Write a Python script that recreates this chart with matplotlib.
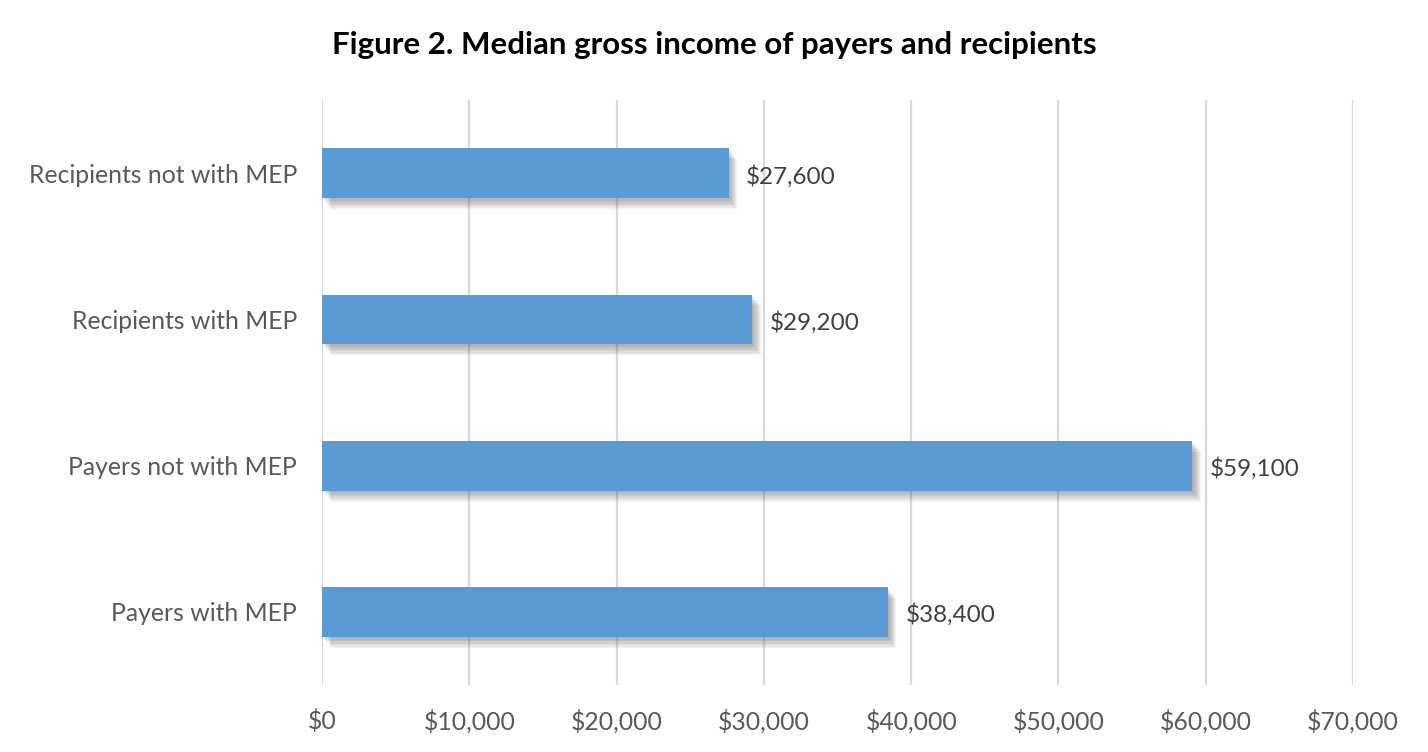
import matplotlib.pyplot as plt
import matplotlib.patheffects as pe
from matplotlib.ticker import FuncFormatter

categories = ["Payers with MEP", "Payers not with MEP", "Recipients with MEP", "Recipients not with MEP"]
income = [38400, 59100, 29200, 27600]
x_ticks = [0, 10000, 20000, 30000, 40000, 50000, 60000, 70000]

plt.rcParams['font.family'] = ['Lato', 'DejaVu Sans']
grey = '#595959'

fig = plt.figure(figsize=(14.28, 7.52), dpi=100)
ax = fig.add_axes([0.2255, 0.089, 0.722, 0.778])

bars = ax.barh(range(len(categories)), income, height=0.34, color='#5B9BD5', zorder=3)
# soft drop shadow made of a few stacked offsets
shadow = [pe.SimplePatchShadow(offset=(0.8 * d, -d), shadow_rgbFace='#555555', alpha=0.07)
          for d in (1, 2, 3, 4, 5, 6, 7, 8)]
for b in bars:
    b.set_path_effects(shadow + [pe.Normal()])

for i, v in enumerate(income):
    ax.text(v + 1200, i - 0.02, "${:,}".format(v), va='center', ha='left', fontsize=17.5, color='#404040')

ax.set_xlim(0, 70000)
ax.set_ylim(-0.5, len(categories) - 0.5)
ax.set_xticks(x_ticks)
ax.xaxis.set_major_formatter(FuncFormatter(lambda v, p: "${:,.0f}".format(v)))
ax.set_yticks(range(len(categories)))
ax.set_yticklabels(categories)
ax.tick_params(axis='both', length=0, labelsize=17.8, labelcolor=grey)
ax.tick_params(axis='x', pad=17)
ax.tick_params(axis='y', pad=18)
ax.grid(axis='x', color='#D9D9D9', linewidth=1.6, zorder=0)
for s in ax.spines.values():
    s.set_visible(False)

fig.text(0.5, 0.94, "Figure 2. Median gross income of payers and recipients",
         ha='center', va='center', fontsize=22.5, fontweight='bold', color='black')

fig.savefig('out.png', dpi=100)
